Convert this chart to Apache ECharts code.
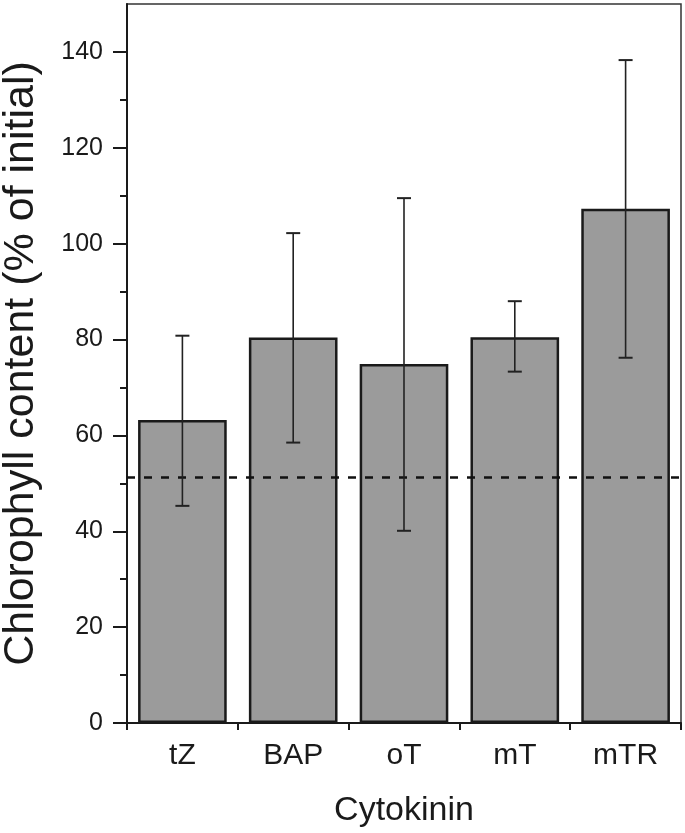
<!DOCTYPE html>
<html>
<head>
<meta charset="utf-8">
<script src="https://cdn.jsdelivr.net/npm/echarts@6/dist/echarts.min.js"></script>
<style>
html,body{margin:0;padding:0;background:#fff;}
#chart{width:685px;height:833px;}
</style>
</head>
<body>
<div id="chart"></div>
<script>
const categories = ['tZ', 'BAP', 'oT', 'mT', 'mTR'];
const means = [63.2, 80.4, 74.9, 80.5, 107.3];
const errLow = [45.3, 58.5, 40.1, 73.3, 76.2];
const errHigh = [80.8, 102.2, 109.5, 88.0, 138.3];
const baseline = 51.3;
const yTicks = [0, 20, 40, 60, 80, 100, 120, 140];
const yMinorTicks = [10, 30, 50, 70, 90, 110, 130];

const FONT = '"Liberation Sans", Arial, sans-serif';
const DARK = '#1a1a1a';

const chart = echarts.init(document.getElementById('chart'), null, {renderer: 'canvas'});

const option = {
  animation: false,
  backgroundColor: '#fff',
  grid: {
    left: 127, right: 4, top: 4, bottom: 110,
    outerBoundsMode: 'none',
    containLabel: false,
    show: true, borderColor: '#333', borderWidth: 1.5, backgroundColor: 'transparent'
  },
  xAxis: {
    type: 'category',
    data: categories,
    boundaryGap: true,
    axisLine: {show: true, lineStyle: {color: DARK, width: 2}},
    axisTick: {show: true, alignWithLabel: false, length: 7, lineStyle: {color: DARK, width: 2}},
    axisLabel: {color: DARK, fontSize: 30, fontFamily: FONT, margin: 18},
    splitLine: {show: false},
    name: 'Cytokinin',
    nameLocation: 'middle',
    nameGap: 71,
    nameTextStyle: {color: DARK, fontSize: 34, fontFamily: FONT}
  },
  yAxis: [
    {
      type: 'value',
      min: 0, max: 150,
      position: 'left',
      axisLine: {show: true, lineStyle: {color: DARK, width: 2}},
      axisTick: {show: true, length: 14, customValues: yTicks, lineStyle: {color: DARK, width: 2}},
      axisLabel: {color: DARK, fontSize: 25, fontFamily: FONT, margin: 24, customValues: yTicks},
      splitLine: {show: false},
      name: 'Chlorophyll content (% of initial)',
      nameLocation: 'middle',
      nameGap: 84,
      nameTextStyle: {color: DARK, fontSize: 43, fontFamily: FONT}
    },
    {
      type: 'value',
      min: 0, max: 150,
      position: 'left',
      axisLine: {show: false},
      axisTick: {show: true, length: 7, customValues: yMinorTicks, lineStyle: {color: DARK, width: 2}},
      axisLabel: {show: false},
      splitLine: {show: false}
    }
  ],
  series: [
    {
      type: 'bar',
      data: means,
      barWidth: '80%',
      itemStyle: {color: '#9b9b9b', borderColor: DARK, borderWidth: 2.5},
      markLine: {
        silent: true,
        symbol: ['none', 'none'],
        label: {show: false},
        lineStyle: {type: [8, 9], width: 2.5, color: '#111'},
        data: [{yAxis: baseline}]
      }
    },
    {
      type: 'custom',
      z: 5,
      data: categories.map((c, i) => [i, errLow[i], errHigh[i]]),
      encode: {x: 0, y: [1, 2]},
      renderItem: function (params, api) {
        const i = api.value(0);
        const lo = api.coord([i, api.value(1)]);
        const hi = api.coord([i, api.value(2)]);
        const hw = 7;
        const style = {stroke: '#222', lineWidth: 1.6};
        const capStyle = {stroke: '#222', lineWidth: 2};
        return {
          type: 'group',
          children: [
            {type: 'line', shape: {x1: lo[0], y1: lo[1], x2: hi[0], y2: hi[1]}, style: style},
            {type: 'line', shape: {x1: hi[0] - hw, y1: hi[1], x2: hi[0] + hw, y2: hi[1]}, style: capStyle},
            {type: 'line', shape: {x1: lo[0] - hw, y1: lo[1], x2: lo[0] + hw, y2: lo[1]}, style: capStyle}
          ]
        };
      }
    }
  ]
};

chart.setOption(option);
</script>
</body>
</html>
